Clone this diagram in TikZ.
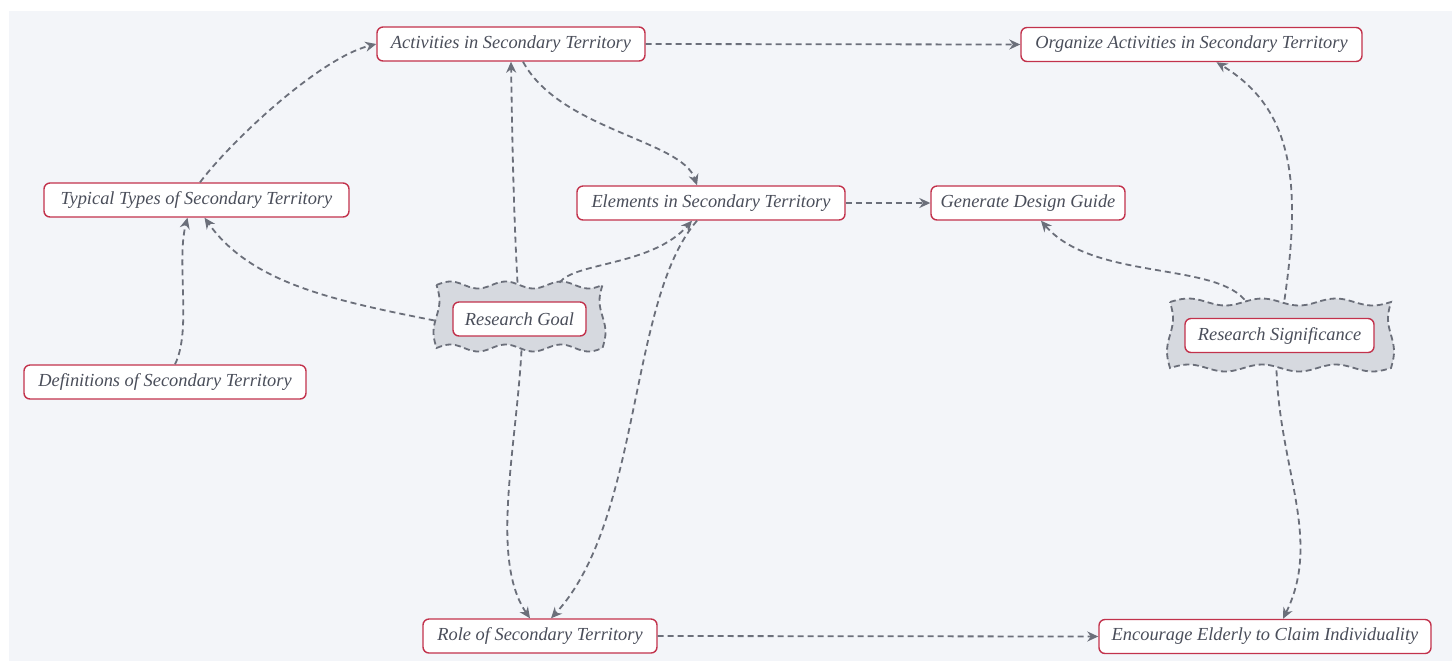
\documentclass[tikz,border=0pt]{standalone}
\usepackage{fontspec}
\setmainfont{Liberation Serif}
\usetikzlibrary{arrows.meta}
\definecolor{paper}{HTML}{F3F5F9}
\definecolor{frame}{HTML}{C2324C}
\definecolor{ink}{HTML}{4A4E5A}
\definecolor{wire}{HTML}{6B6F7A}
\definecolor{cloudfill}{HTML}{D6D9DF}
\tikzset{
  topic/.style={draw=frame, line width=0.7pt, fill=white, rounded corners=3pt,
    minimum height=17pt, inner xsep=0pt, inner ysep=0pt, text=ink,
    font=\fontsize{9.2pt}{11pt}\selectfont\itshape},
  anchorbox/.style={inner sep=0pt},
  cloudline/.style={draw=wire, fill=cloudfill, line width=0.9pt, dash pattern=on 3pt off 1.8pt},
  link/.style={draw=wire, line width=0.9pt, dash pattern=on 3pt off 2pt,
    -{Stealth[length=5.5pt,width=5pt]}},
}
% wavy frame: centre x, centre y, half width, half height (all in drawing units)
\newcommand\wavyframe[4]{%
  \filldraw[cloudline]
    plot[domain=-1:1, samples=61, smooth] ({#1+\x*#3}, {#2-#4+3.5*sin(\x*540)})
    -- plot[domain=-1:1, samples=21, smooth] ({#1+#3+3*sin(\x*180)}, {#2+\x*#4})
    -- plot[domain=1:-1, samples=61, smooth] ({#1+\x*#3}, {#2+#4+3.5*sin(\x*540)})
    -- plot[domain=1:-1, samples=21, smooth] ({#1-#3-3*sin(\x*180)}, {#2+\x*#4})
    -- cycle;}
\begin{document}
\begin{tikzpicture}[x=0.5pt,y=-0.5pt]
\useasboundingbox (0,0) rectangle (1452,661);
\fill[paper] (9,11) rectangle (1452,661);

% central clouds
\wavyframe{519.5}{316.5}{83}{31.5}
\wavyframe{1280.5}{335}{110.5}{33}
\node[anchorbox, minimum width=84.5pt, minimum height=33.5pt] (goalcloud) at (519.5,316.5) {};
\node[anchorbox, minimum width=112.5pt, minimum height=35pt] (sigcloud) at (1280.5,335) {};

% topics
\node[topic, minimum width=134pt] (act) at (511,44) {Activities in Secondary Territory};
\node[topic, minimum width=170.5pt] (org) at (1191.5,44.5) {Organize Activities in Secondary Territory};
\node[topic, minimum width=152.5pt] (typ) at (196.5,200) {Typical Types of Secondary Territory};
\node[topic, minimum width=134pt] (ele) at (711,203) {Elements in Secondary Territory};
\node[topic, minimum width=97pt] (gen) at (1028,203) {Generate Design Guide};
\node[topic, minimum width=66.5pt] (goal) at (519.5,319) {Research Goal};
\node[topic, minimum width=94.5pt] (sig) at (1279.5,335.5) {Research Significance};
\node[topic, minimum width=141pt] (def) at (165,382) {Definitions of Secondary Territory};
\node[topic, minimum width=117pt] (role) at (540,636) {Role of Secondary Territory};
\node[topic, minimum width=166pt] (enc) at (1265,636.5) {Encourage Elderly to Claim Individuality};

% connectors
\draw[link] ([xshift=1.75pt]typ.north) .. controls (232,140) and (320,58) .. (act.west);
\draw[link] ([xshift=5pt]def.north) .. controls (192,330) and (176,262) .. ([xshift=-4.5pt]typ.south);
\draw[link] ([yshift=-2pt]goalcloud.west) .. controls (330,300) and (250,282) .. ([xshift=4pt]typ.south);
\draw[link] ([xshift=-1pt]goalcloud.north) .. controls (513,200) and (512,120) .. (act.south);
\draw[link] ([xshift=20pt]goalcloud.north) .. controls (575,262) and (652,266) .. ([xshift=-9.5pt]ele.south);
\draw[link] ([xshift=6pt]act.south) .. controls (560,130) and (682,140) .. ([xshift=-7pt]ele.north);
\draw[link] (act.east) -- (org.west);
\draw[link] (ele.east) -- (gen.west);
\draw[link] ([xshift=-7pt]ele.south) .. controls (628,300) and (642,520) .. ([xshift=5.5pt]role.north);
\draw[link] ([xshift=1pt]goalcloud.south) .. controls (516,450) and (490,560) .. ([xshift=-5pt]role.north);
\draw[link] ([xshift=-18pt]sigcloud.north) .. controls (1212,262) and (1092,280) .. ([xshift=6.5pt]gen.south);
\draw[link] ([xshift=2pt]sigcloud.north) .. controls (1302,180) and (1292,108) .. ([xshift=12.5pt]org.south);
\draw[link] ([xshift=-2pt]sigcloud.south) .. controls (1280,470) and (1322,540) .. ([xshift=9pt]enc.north);
\draw[link] (role.east) -- (enc.west);
\end{tikzpicture}
\end{document}
